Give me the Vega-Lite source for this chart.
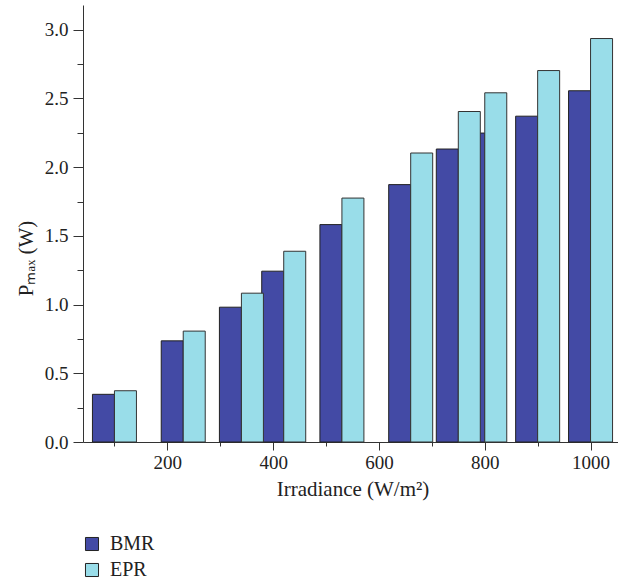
{
  "$schema": "https://vega.github.io/schema/vega-lite/v6.json",
  "width": 539,
  "height": 437,
  "autosize": "none",
  "padding": {"left": 83, "top": 5, "right": 0, "bottom": 137},
  "background": "white",
  "config": {
    "font": "Liberation Serif",
    "view": {"stroke": null},
    "axis": {
      "domainColor": "#333333",
      "tickColor": "#333333",
      "labelColor": "#222222",
      "titleColor": "#222222",
      "labelFont": "Liberation Serif",
      "titleFont": "Liberation Serif",
      "labelFontSize": 19,
      "titleFontSize": 21,
      "titleFontWeight": "normal",
      "grid": false
    }
  },
  "data": {
    "values": [
      {"irradiance": 100, "series": "BMR", "pmax": 0.347},
      {"irradiance": 230, "series": "BMR", "pmax": 0.736},
      {"irradiance": 340, "series": "BMR", "pmax": 0.981},
      {"irradiance": 420, "series": "BMR", "pmax": 1.243},
      {"irradiance": 530, "series": "BMR", "pmax": 1.582},
      {"irradiance": 660, "series": "BMR", "pmax": 1.873},
      {"irradiance": 750, "series": "BMR", "pmax": 2.132},
      {"irradiance": 800, "series": "BMR", "pmax": 2.248},
      {"irradiance": 900, "series": "BMR", "pmax": 2.371},
      {"irradiance": 1000, "series": "BMR", "pmax": 2.556},
      {"irradiance": 100, "series": "EPR", "pmax": 0.373},
      {"irradiance": 230, "series": "EPR", "pmax": 0.807},
      {"irradiance": 340, "series": "EPR", "pmax": 1.083},
      {"irradiance": 420, "series": "EPR", "pmax": 1.388},
      {"irradiance": 530, "series": "EPR", "pmax": 1.775},
      {"irradiance": 660, "series": "EPR", "pmax": 2.103},
      {"irradiance": 750, "series": "EPR", "pmax": 2.405},
      {"irradiance": 800, "series": "EPR", "pmax": 2.541},
      {"irradiance": 900, "series": "EPR", "pmax": 2.703},
      {"irradiance": 1000, "series": "EPR", "pmax": 2.936}
    ]
  },
  "encoding": {
    "x": {
      "field": "irradiance",
      "type": "quantitative",
      "scale": {"domain": [50, 1050], "nice": false, "zero": false},
      "axis": {
        "title": "Irradiance (W/m²)",
        "values": [100, 200, 300, 400, 500, 600, 700, 800, 900, 1000],
        "labelExpr": "datum.value % 200 === 0 ? datum.label : ''",
        "format": "d",
        "tickSize": {"condition": {"test": "datum.value % 200 === 0", "value": 8}, "value": 4},
        "labelPadding": 3,
        "titlePadding": 6
      }
    },
    "y": {
      "field": "pmax",
      "type": "quantitative",
      "scale": {"domain": [0, 3.18], "nice": false},
      "axis": {
        "title": "Pₘₐₓ (W)",
        "values": [0, 0.25, 0.5, 0.75, 1, 1.25, 1.5, 1.75, 2, 2.25, 2.5, 2.75, 3],
        "format": ".1f",
        "labelExpr": "datum.value % 0.5 === 0 ? datum.label : ''",
        "tickSize": {"condition": {"test": "datum.value % 0.5 === 0", "value": 10}, "value": 6},
        "labelPadding": 5,
        "titlePadding": 8,
        "titleY": 253
      }
    },
    "color": {
      "field": "series",
      "type": "nominal",
      "scale": {"domain": ["BMR", "EPR"], "range": ["#434aa5", "#99dde9"]},
      "legend": {
        "title": null,
        "orient": "none",
        "legendX": -1,
        "legendY": 529,
        "direction": "vertical",
        "symbolType": "square",
        "symbolSize": 170,
        "symbolStrokeColor": "#222222",
        "symbolStrokeWidth": 1,
        "symbolOpacity": 1,
        "labelFont": "Liberation Serif",
        "labelFontSize": 20,
        "labelColor": "#222222",
        "labelOffset": 8,
        "rowPadding": 6
      }
    }
  },
  "layer": [
    {
      "transform": [{"filter": "datum.series === 'BMR'"}],
      "mark": {"type": "bar", "orient": "vertical", "width": 22, "xOffset": -11, "stroke": "#222222", "strokeWidth": 1, "opacity": 1}
    },
    {
      "transform": [{"filter": "datum.series === 'EPR'"}],
      "mark": {"type": "bar", "orient": "vertical", "width": 22, "xOffset": 11, "stroke": "#333333", "strokeWidth": 1, "opacity": 1}
    }
  ]
}
